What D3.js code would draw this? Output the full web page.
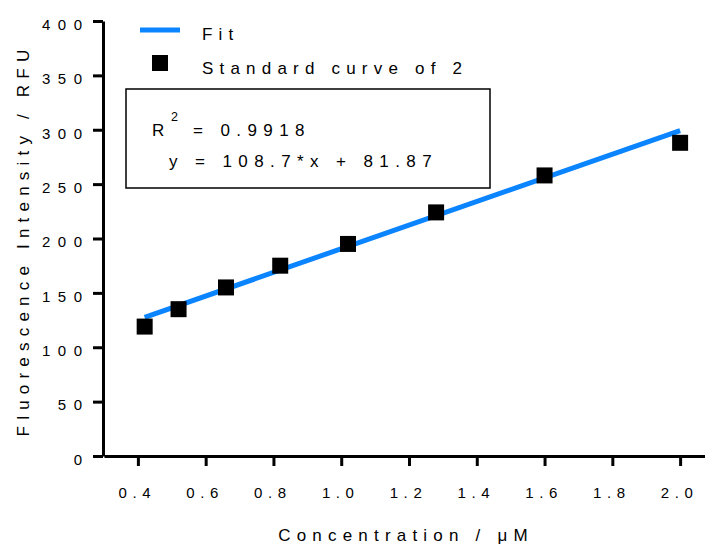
<!DOCTYPE html>
<html>
<head>
<meta charset="utf-8">
<script src="https://cdn.jsdelivr.net/npm/d3@7"></script>
<style>
  body { margin: 0; background: #fff; }
  text { font-family: "Liberation Sans", Arial, sans-serif; fill: #000; }
</style>
</head>
<body>
<div id="chart"></div>
<script>
var w = 705,
	h = 544;

// data points
var concentration = [0.42, 0.52, 0.66, 0.82, 1.02, 1.28, 1.60, 2.00];
var fluorescence = [119, 135, 155, 175, 195, 224, 258, 288];

// fit line
var slope = 108.7,
	intercept = 81.87,
	fitRange = [0.42, 2.0];

var xTicks = [0.4, 0.6, 0.8, 1.0, 1.2, 1.4, 1.6, 1.8, 2.0];
var yTicks = [0, 50, 100, 150, 200, 250, 300, 350, 400];

var svg = d3.select("#chart").append("svg")
	.attr("width", w)
	.attr("height", h);

var x = d3.scaleLinear().domain([0.3, 2.1]).range([104, 714]);
var y = d3.scaleLinear().domain([0, 400]).range([456, 21]);

// fit line
var fitLine = d3.line()
	.x(function(d) { return x(d); })
	.y(function(d) { return y(slope * d + intercept); });

svg.append("path")
	.datum(fitRange)
	.attr("d", fitLine)
	.attr("fill", "none")
	.attr("stroke", "#0a84ff")
	.attr("stroke-width", 5);

// points
var sq = 16;
svg.selectAll("rect.pt")
	.data(concentration)
	.enter()
	.append("rect")
	.attr("class", "pt")
	.attr("x", function(d) { return x(d) - sq / 2; })
	.attr("y", function(d, i) { return y(fluorescence[i]) - sq / 2; })
	.attr("width", sq)
	.attr("height", sq)
	.attr("fill", "#000");

// axes
var yAxis = svg.append("g")
	.attr("transform", "translate(103,0)")
	.call(d3.axisLeft(y).tickValues(yTicks).tickSize(10).tickSizeOuter(0).tickPadding(3.5)
		.tickFormat(d3.format("d")));

var xAxis = svg.append("g")
	.attr("transform", "translate(0,456)")
	.call(d3.axisBottom(x).tickValues(xTicks).tickSize(10).tickSizeOuter(0).tickPadding(21)
		.tickFormat(d3.format(".1f")));

[xAxis, yAxis].forEach(function(a) {
	a.select(".domain").attr("stroke", "#000").attr("stroke-width", 3);
	a.selectAll(".tick line").attr("stroke", "#000").attr("stroke-width", 3);
	a.selectAll(".tick text")
		.attr("font-family", "Liberation Sans, Arial, sans-serif")
		.attr("font-size", "15px")
		.attr("fill", "#000");
});
yAxis.selectAll(".tick text").style("letter-spacing", "7.5px").attr("dy", "0.55em");
xAxis.selectAll(".tick text").style("letter-spacing", "5.6px").attr("dx", "-1px");

// axis titles
var title = { size: "17px", spacing: "6.2px" };

svg.append("text")
	.attr("x", 406)
	.attr("y", 541)
	.attr("text-anchor", "middle")
	.attr("font-size", title.size)
	.style("letter-spacing", title.spacing)
	.text("Concentration / μM");

svg.append("text")
	.attr("transform", "translate(29,240) rotate(-90)")
	.attr("text-anchor", "middle")
	.attr("font-size", title.size)
	.style("letter-spacing", title.spacing)
	.text("Fluorescence Intensity / RFU");

// legend
var legend = svg.append("g").attr("class", "legend");
legend.append("line")
	.attr("x1", 140).attr("x2", 180)
	.attr("y1", 30).attr("y2", 30)
	.attr("stroke", "#0a84ff")
	.attr("stroke-width", 5);
legend.append("text")
	.attr("x", 202).attr("y", 40)
	.attr("font-size", title.size)
	.style("letter-spacing", title.spacing)
	.text("Fit");
legend.append("rect")
	.attr("x", 152).attr("y", 55)
	.attr("width", sq).attr("height", sq)
	.attr("fill", "#000");
legend.append("text")
	.attr("x", 202).attr("y", 74)
	.attr("font-size", title.size)
	.style("letter-spacing", title.spacing)
	.text("Standard curve of 2");

// R squared box
svg.append("rect")
	.attr("x", 126).attr("y", 89)
	.attr("width", 364).attr("height", 99)
	.attr("fill", "none")
	.attr("stroke", "#000")
	.attr("stroke-width", 1.5);

var r2 = svg.append("text")
	.attr("x", 152).attr("y", 136)
	.attr("font-size", title.size)
	.style("letter-spacing", "6.4px");
r2.append("tspan").text("R");
r2.append("tspan").attr("font-size", "12.5px").attr("dy", -15).attr("x", 171).text("2");
r2.append("tspan").attr("dy", 15).attr("x", 193).text("= 0.9918");

svg.append("text")
	.attr("x", 169).attr("y", 167)
	.attr("font-size", title.size)
	.style("letter-spacing", "6.4px")
	.text("y = 108.7*x + 81.87");
</script>
</body>
</html>
